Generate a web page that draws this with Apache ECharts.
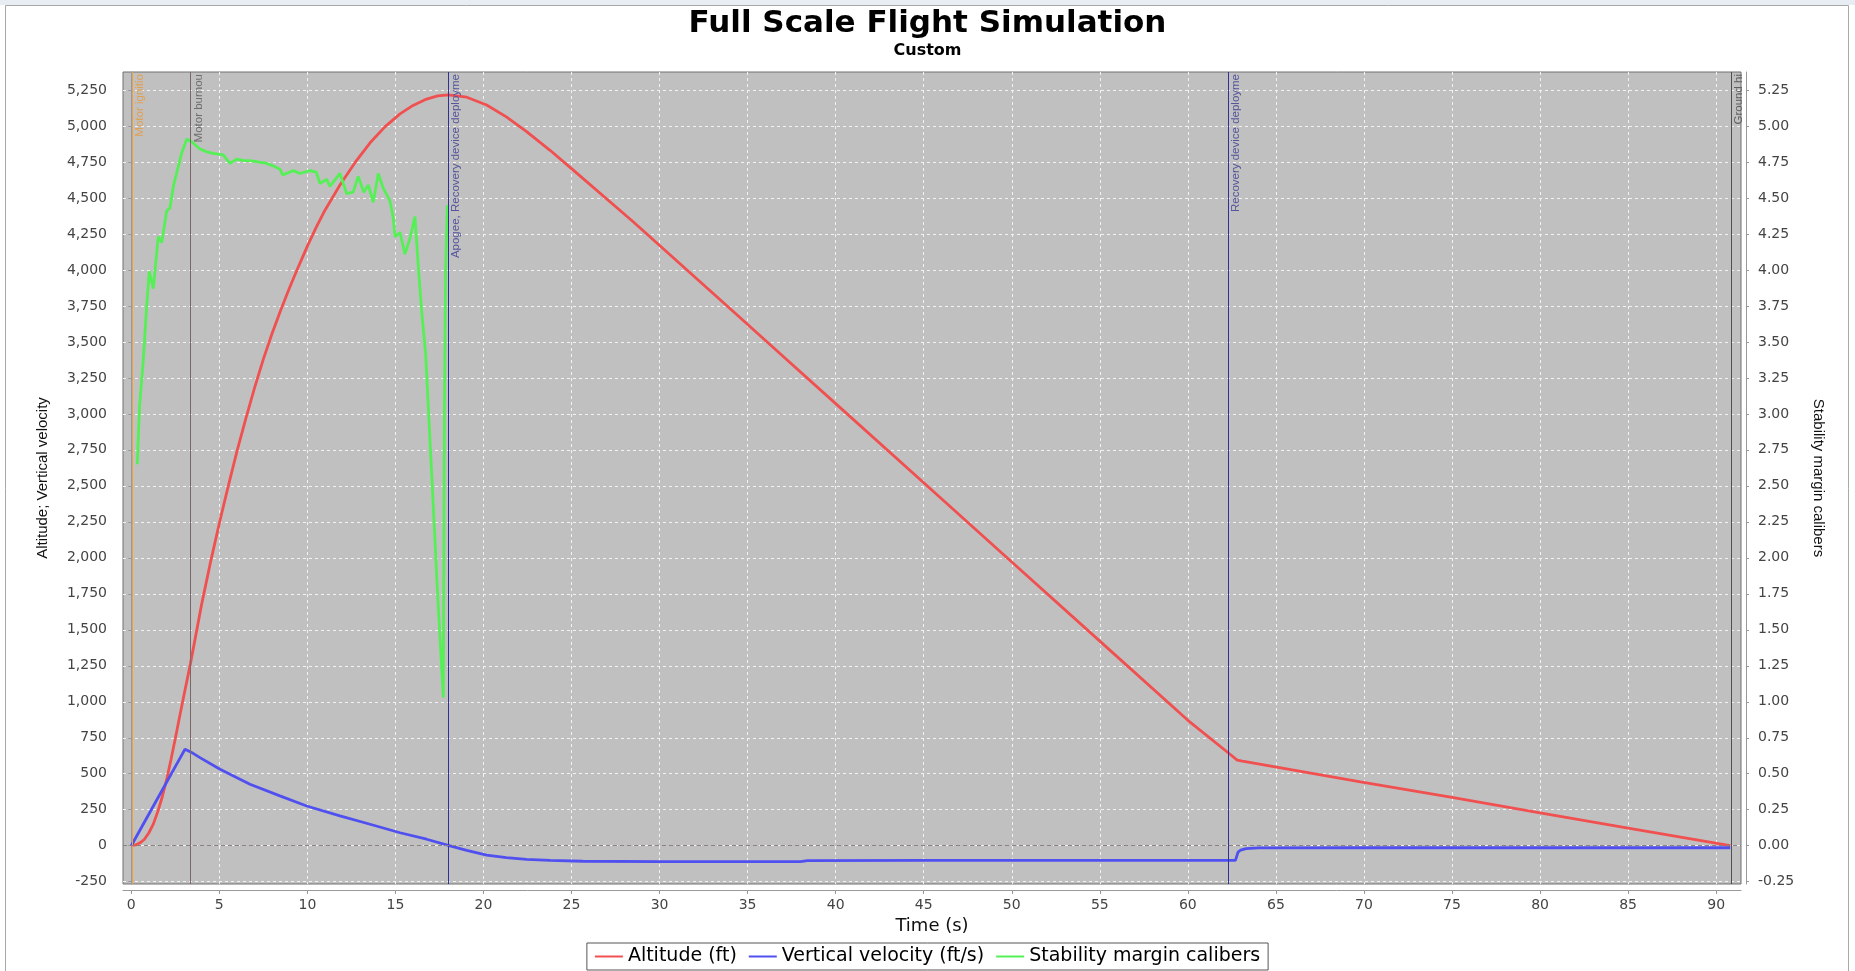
<!DOCTYPE html>
<html>
<head>
<meta charset="utf-8">
<script src="https://cdn.jsdelivr.net/npm/echarts@6/dist/echarts.min.js"></script>
<style>
html,body{margin:0;padding:0;background:#ffffff;}
#chart{width:1855px;height:971px;}
</style>
</head>
<body>
<div id="chart"></div>
<script>
// ---- Data ----
const altTime = [0, 0.25, 0.5, 0.75, 1.0, 1.25, 1.5, 1.75, 2.0, 2.25, 2.5, 2.75, 3.0, 3.36, 4.0, 4.5, 5.0, 5.5, 6.0, 6.5, 7.0, 7.5, 8.0, 8.5, 9.0, 9.5, 10.0, 10.5, 11.0, 11.85, 12.7, 13.56, 14.4, 15.26, 16.0, 16.77, 17.4, 18.0, 19.05, 20.18, 21.3, 22.45, 23.78, 25.1, 28.5, 31.35, 34.2, 36.85, 40, 45, 50, 55, 60, 62.5, 62.8, 63.1, 65.2, 69.8, 75, 80, 85, 90.8];
const altitudeFt = [0, 5, 20, 45, 90, 150, 235, 335, 455, 595, 745, 900, 1050, 1265, 1680, 1970, 2240, 2495, 2740, 2965, 3180, 3380, 3560, 3725, 3880, 4025, 4165, 4295, 4415, 4590, 4745, 4883, 4994, 5084, 5143, 5187, 5209, 5216, 5200, 5146, 5063, 4961, 4831, 4693, 4335, 4022, 3709, 3418, 3071, 2521, 1971, 1421, 871, 625, 595, 588, 543, 443, 335, 228, 122, 0];

const velTime = [0, 1.5, 2.8, 3.05, 3.4, 3.9, 5.04, 6.74, 8.44, 9.96, 11.85, 13.56, 15.26, 16.77, 18.0, 19.05, 20.18, 21.3, 22.45, 23.78, 25.65, 30, 38, 38.4, 45, 55, 62.7, 62.75, 62.85, 63.0, 63.3, 64, 70, 80, 90.8];
const velocityFtS = [0, 330, 615, 670, 650, 612, 531, 427, 346, 276, 207, 149, 90, 45, 3, -32, -65, -83, -95, -102, -108, -111, -111, -104, -102, -102, -102, -102, -45, -30, -20, -15, -14, -14, -14];

const stabTime = [0.34, 0.47, 0.68, 0.87, 1.02, 1.25, 1.53, 1.73, 2.01, 2.2, 2.39, 2.67, 2.86, 3.15, 3.43, 3.9, 4.3, 4.66, 5.22, 5.6, 5.98, 6.4, 6.74, 7.2, 7.69, 8.1, 8.44, 8.6, 9.2, 9.58, 10.15, 10.5, 10.72, 11.1, 11.28, 11.85, 12.23, 12.6, 12.89, 13.2, 13.46, 13.74, 14.03, 14.3, 14.69, 14.88, 14.98, 15.26, 15.54, 15.83, 16.11, 16.3, 16.5, 16.72, 17.06, 17.39, 17.72, 17.78, 17.85, 17.95];
const stabilityCal = [2.65, 3.05, 3.37, 3.74, 3.99, 3.87, 4.23, 4.19, 4.41, 4.43, 4.58, 4.72, 4.81, 4.91, 4.89, 4.84, 4.82, 4.81, 4.80, 4.74, 4.77, 4.76, 4.76, 4.75, 4.74, 4.72, 4.70, 4.66, 4.69, 4.67, 4.69, 4.68, 4.60, 4.63, 4.58, 4.67, 4.53, 4.54, 4.65, 4.54, 4.59, 4.47, 4.67, 4.57, 4.48, 4.36, 4.23, 4.26, 4.11, 4.22, 4.37, 4.02, 3.70, 3.41, 2.58, 1.76, 1.03, 3.0, 4.0, 4.45];

const eventNames = ["Motor ignitio", "Motor burnou", "Apogee, Recovery device deployme", "Recovery device deployme", "Ground hi"];
const eventTimes = [0.03, 3.36, 18.0, 62.29, 90.84];

const xTicks = [0, 5, 10, 15, 20, 25, 30, 35, 40, 45, 50, 55, 60, 65, 70, 75, 80, 85, 90];
const leftTicks = [-250, 0, 250, 500, 750, 1000, 1250, 1500, 1750, 2000, 2250, 2500, 2750, 3000, 3250, 3500, 3750, 4000, 4250, 4500, 4750, 5000, 5250];
const rightTicks = [-0.25, 0, 0.25, 0.5, 0.75, 1, 1.25, 1.5, 1.75, 2, 2.25, 2.5, 2.75, 3, 3.25, 3.5, 3.75, 4, 4.25, 4.5, 4.75, 5, 5.25];

const seriesNames = ["Altitude (ft)", "Vertical velocity (ft/s)", "Stability margin calibers"];

// ---- Styles ----
const eventLineColors = ["#f0a040", "#7a6868", "#30309a", "#30309a", "#505050"];
const eventLabelColors = ["#e2a055", "#6e6e6e", "#55559e", "#55559e", "#606060"];

const zip = (a, b) => a.map((t, i) => [t, b[i]]);

const chart = echarts.init(document.getElementById('chart'), null, {renderer: 'canvas'});

const tickFont = {fontFamily: 'DejaVu Sans', fontSize: 14, color: '#444'};

const option = {
  animation: false,
  backgroundColor: '#ffffff',
  graphic: [
    {type: 'rect', z: -10, shape: {x: 0, y: 0, width: 1855, height: 5}, style: {fill: '#e8edf3'}},
    {type: 'rect', z: -10, shape: {x: 5.5, y: 5.5, width: 1843, height: 975}, style: {fill: 'none', stroke: '#a8a8a8', lineWidth: 1}}
  ],
  title: {
    text: 'Full Scale Flight Simulation',
    subtext: 'Custom',
    left: 'center',
    top: 0,
    padding: [7, 5, 5, 5],
    itemGap: 1,
    textStyle: {fontFamily: 'DejaVu Sans', fontWeight: 'bold', fontSize: 31, lineHeight: 34, color: '#000'},
    subtextStyle: {fontFamily: 'DejaVu Sans', fontWeight: 'bold', fontSize: 16, lineHeight: 18, color: '#000'}
  },
  legend: {
    data: seriesNames,
    bottom: 1,
    left: 'center',
    icon: 'rect',
    itemWidth: 28,
    itemHeight: 2,
    itemGap: 12,
    padding: [4, 8, 4, 8],
    borderColor: '#555',
    borderWidth: 1,
    textStyle: {fontFamily: 'DejaVu Sans', fontSize: 19, color: '#000'}
  },
  grid: {
    left: 123, right: 114, top: 72, bottom: 87,
    show: true,
    backgroundColor: '#c0c0c0',
    borderColor: '#707070',
    borderWidth: 1
  },
  xAxis: {
    type: 'value',
    min: -0.47,
    max: 91.41,
    offset: 6,
    name: 'Time (s)',
    nameLocation: 'middle',
    nameGap: 27,
    nameTextStyle: {fontFamily: 'DejaVu Sans', fontSize: 18, color: '#111'},
    axisLine: {show: true, onZero: false, lineStyle: {color: '#999'}},
    axisTick: {show: true, length: 4, customValues: xTicks, lineStyle: {color: '#999'}},
    axisLabel: Object.assign({customValues: xTicks, margin: 8}, tickFont),
    splitLine: {show: true, lineStyle: {color: '#f2f2f2', type: [3, 3], width: 1}}
  },
  yAxis: [
    {
      type: 'value',
      position: 'left',
      min: -266,
      max: 5375,
      offset: 6,
      name: 'Altitude; Vertical velocity',
      nameLocation: 'middle',
      nameGap: 67,
      nameTextStyle: {fontFamily: 'Liberation Sans', fontSize: 15, color: '#111'},
      axisLine: {show: true, lineStyle: {color: '#999'}},
      axisTick: {show: true, length: 3, customValues: leftTicks, lineStyle: {color: '#999'}},
      axisLabel: Object.assign({customValues: leftTicks, margin: 10, formatter: v => Number(v).toLocaleString('en-US')}, tickFont),
      splitLine: {show: true, lineStyle: {color: '#f2f2f2', type: [3, 3], width: 1}}
    },
    {
      type: 'value',
      position: 'right',
      min: -0.266,
      max: 5.375,
      offset: 5,
      name: 'Stability margin calibers',
      nameLocation: 'middle',
      nameRotate: -90,
      nameGap: 65,
      nameTextStyle: {fontFamily: 'Liberation Sans', fontSize: 15, color: '#111'},
      axisLine: {show: true, lineStyle: {color: '#999'}},
      axisTick: {show: true, length: 3, customValues: rightTicks, lineStyle: {color: '#999'}},
      axisLabel: Object.assign({customValues: rightTicks, margin: 12, formatter: v => Number(v).toFixed(2)}, tickFont),
      splitLine: {show: false}
    }
  ],
  series: [
    {
      name: seriesNames[0],
      type: 'line',
      yAxisIndex: 0,
      showSymbol: false,
      symbol: 'none',
      data: zip(altTime, altitudeFt),
      lineStyle: {color: '#f05050', width: 2.8},
      itemStyle: {color: '#f05050'},
      z: 3,
      markLine: {
        silent: true,
        symbol: ['none', 'none'],
        animation: false,
        data: eventTimes.map((t, i) => ({
          name: eventNames[i],
          xAxis: t,
          lineStyle: {color: eventLineColors[i], width: 1, type: 'solid'},
          label: {
            show: true,
            formatter: '{b}',
            position: 'insideEndBottom',
            distance: [2, 2],
            fontFamily: 'Liberation Sans',
            fontSize: 11.5,
            color: eventLabelColors[i]
          }
        }))
      }
    },
    {
      name: seriesNames[1],
      type: 'line',
      yAxisIndex: 0,
      showSymbol: false,
      symbol: 'none',
      data: zip(velTime, velocityFtS),
      lineStyle: {color: '#5050f0', width: 2.8},
      itemStyle: {color: '#5050f0'},
      z: 3,
      markLine: {
        silent: true,
        symbol: ['none', 'none'],
        animation: false,
        label: {show: false},
        data: [{yAxis: 0, lineStyle: {color: '#8c8282', type: [4, 3], width: 1}}]
      }
    },
    {
      name: seriesNames[2],
      type: 'line',
      yAxisIndex: 1,
      showSymbol: false,
      symbol: 'none',
      data: zip(stabTime, stabilityCal),
      lineStyle: {color: '#55f055', width: 2.8},
      itemStyle: {color: '#55f055'},
      z: 4
    }
  ]
};

chart.setOption(option);
</script>
</body>
</html>
